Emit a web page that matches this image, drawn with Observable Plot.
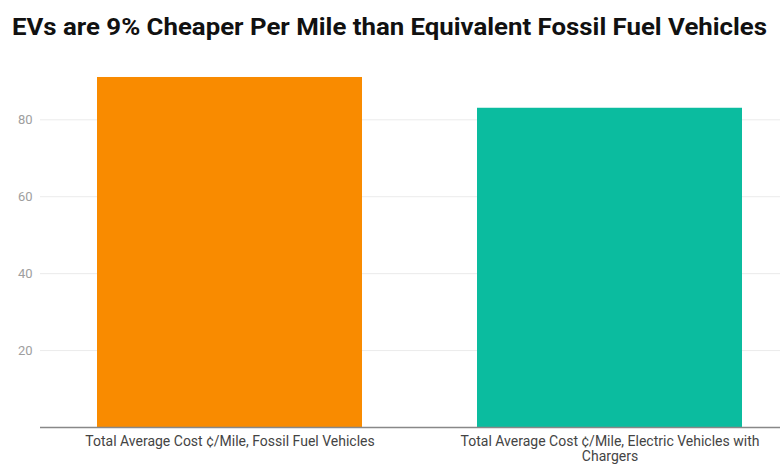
<!DOCTYPE html>
<html><head><meta charset="utf-8">
<script src="https://cdn.jsdelivr.net/npm/d3@7"></script>
<script src="https://cdn.jsdelivr.net/npm/@observablehq/plot@0.6"></script>
<style>
body{margin:0;background:#fff;font-family:Roboto,sans-serif;}
#wrap{width:780px;height:470px;position:relative;overflow:hidden;}
#title{position:absolute;left:12px;top:12px;font-size:24px;font-weight:700;color:#111;white-space:nowrap;transform-origin:0 0;line-height:30px;}
#chart{position:absolute;left:0;top:60px;}
</style></head>
<body><div id="wrap"><div id="title">EVs are 9% Cheaper Per Mile than Equivalent Fossil Fuel Vehicles</div><div id="chart"></div></div>
<script>
const categories = ["Total Average Cost ¢/Mile, Fossil Fuel Vehicles", "Total Average Cost ¢/Mile, Electric Vehicles with Chargers"];
const values = [91, 83];
const colors = ["#F98B00", "#0BBC9F"];
const yTicks = [20, 40, 60, 80];

const data = categories.map((c, i) => ({category: c, value: values[i], color: colors[i]}));

const t = document.getElementById("title");
const w = t.getBoundingClientRect().width;
t.style.transform = `scaleX(${755 / w})`;

const plot = Plot.plot({
  width: 780,
  height: 410,
  marginLeft: 40,
  marginRight: 0,
  marginTop: 0,
  marginBottom: 43,
  style: {fontFamily: "Roboto, sans-serif", background: "#fff"},
  x: {domain: categories, range: [40, 799], paddingInner: 0.303, paddingOuter: 0.15},
  y: {domain: [0, 80], range: [367, 59.3]},
  marks: [
    Plot.ruleY(yTicks, {stroke: "#ebebeb", strokeWidth: 1}),
    Plot.barY(data, {x: "category", y: "value", fill: "color"}),
    Plot.ruleY([0], {stroke: "#888", strokeWidth: 1.3}),
    Plot.axisY({ticks: yTicks, tickSize: 0, tickPadding: 8, fontSize: 13, color: "#9e9e9e", label: null}),
    Plot.axisX({tickSize: 0, tickPadding: 8, fontSize: 14, lineHeight: 1.08, color: "#444", label: null, lineWidth: 26})
  ]
});
document.getElementById("chart").appendChild(plot);
</script></body></html>
